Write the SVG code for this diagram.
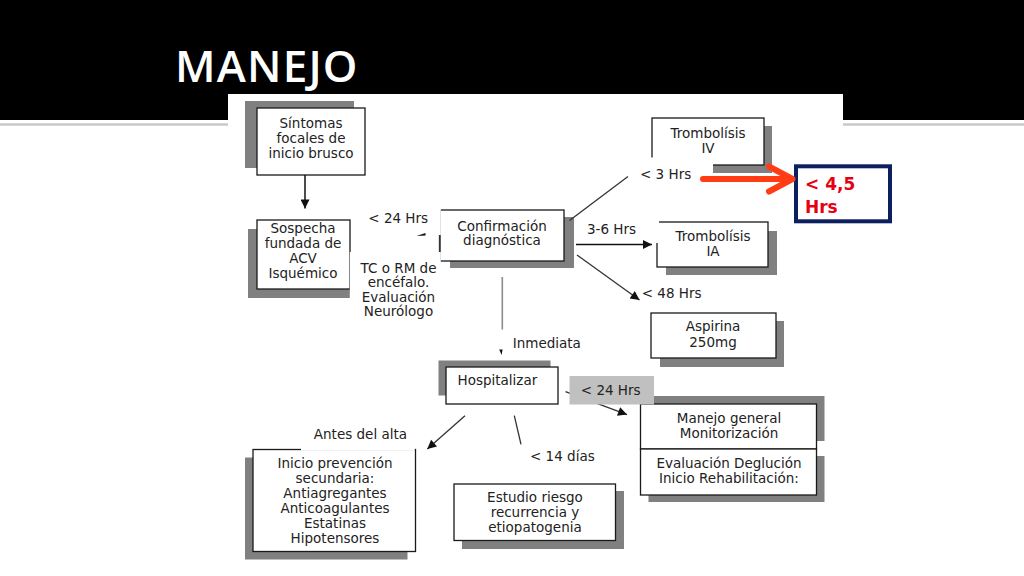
<svg xmlns="http://www.w3.org/2000/svg" width="1024" height="576" viewBox="0 0 1024 576">
  <style>
    .box { fill: #ffffff; stroke: #1a1a1a; stroke-width: 1.3; }
    .shadow { fill: #808080; }
    .t { font-family: "DejaVu Sans", Verdana, sans-serif; font-size: 13.5px; fill: #222222; }
    .c { text-anchor: middle; }
    .cover { fill: #ffffff; }
    .ln { stroke: #333333; stroke-width: 1.3; fill: none; }
    .lnk { stroke: #111111; stroke-width: 1.5; fill: none; }
    .title { font-family: "Open Sans", "DejaVu Sans", sans-serif; font-size: 44px; font-weight: 600; letter-spacing: 1.2px; fill: #ffffff; }
    .red { font-family: "DejaVu Sans", Verdana, sans-serif; font-size: 17px; font-weight: 700; fill: #e60012; }
  </style>
  <defs>
    <marker id="ah" viewBox="0 0 10 10" refX="10" refY="5" markerUnits="userSpaceOnUse" markerWidth="11" markerHeight="9" orient="auto">
      <path d="M0,0 L10,5 L0,10 z" fill="#111111"/>
    </marker>
  </defs>

  <!-- slide background -->
  <rect x="0" y="0" width="1024" height="576" fill="#ffffff"/>
  <rect x="0" y="0" width="1024" height="120" fill="#000000"/>
  <line x1="0" y1="124.5" x2="228" y2="124.5" stroke="#c8c8c8" stroke-width="2.5"/>
  <line x1="843" y1="124.5" x2="1024" y2="124.5" stroke="#c8c8c8" stroke-width="2.5"/>
  <rect x="228" y="94" width="615" height="482" fill="#ffffff"/>
  <text class="title" x="175" y="82">MANEJO</text>

  <g id="sintomas">
    <rect class="shadow" x="245" y="101" width="109" height="67"/>
    <rect class="box" x="257" y="108" width="108" height="67"/>
    <text class="t c" x="311" y="127.7">Síntomas</text>
    <text class="t c" x="311" y="142.7">focales de</text>
    <text class="t c" x="311" y="157.7">inicio brusco</text>
  </g>

  <g id="sospecha">
    <rect class="shadow" x="248" y="229" width="102" height="69"/>
    <rect class="box" x="257" y="220" width="93" height="69"/>
    <text class="t c" x="303" y="233">Sospecha</text>
    <text class="t c" x="303" y="248">fundada de</text>
    <text class="t c" x="303" y="263">ACV</text>
    <text class="t c" x="303" y="278">Isquémico</text>
  </g>

  <g id="confirmacion">
    <rect class="shadow" x="450" y="217" width="124" height="51"/>
    <rect class="box" x="440" y="210" width="124" height="51"/>
    <text class="t c" x="502" y="230.5">Confirmación</text>
    <text class="t c" x="502" y="245">diagnóstica</text>
  </g>

  <g id="trombolisis-iv">
    <rect class="shadow" x="660" y="126" width="112" height="47"/>
    <rect class="box" x="652" y="118" width="112" height="47"/>
    <text class="t c" x="708" y="138">Trombolísis</text>
    <text class="t c" x="708" y="153">IV</text>
  </g>

  <g id="hrs-45">
    <rect x="796" y="166.3" width="94" height="55" fill="#ffffff" stroke="#0c1f5e" stroke-width="4"/>
    <text class="red" x="805" y="189.5">&lt; 4,5</text>
    <text class="red" x="805" y="212.5">Hrs</text>
  </g>

  <g id="trombolisis-ia">
    <rect class="shadow" x="666" y="231" width="111" height="44"/>
    <rect class="box" x="657" y="222" width="111" height="45"/>
    <text class="t c" x="713" y="240.5">Trombolísis</text>
    <text class="t c" x="713" y="256">IA</text>
  </g>

  <g id="aspirina">
    <rect class="shadow" x="660" y="321" width="124" height="46"/>
    <rect class="box" x="651" y="313" width="125" height="45"/>
    <text class="t c" x="713" y="331">Aspirina</text>
    <text class="t c" x="713" y="346.5">250mg</text>
  </g>

  <g id="hospitalizar">
    <rect class="shadow" x="438.5" y="360.5" width="112" height="35"/>
    <rect class="box" x="446" y="367" width="112" height="37"/>
    <text class="t" x="457.5" y="385">Hospitalizar</text>
  </g>

  <g id="manejo">
    <rect class="shadow" x="648.5" y="396" width="176" height="45"/>
    <rect class="shadow" x="648.5" y="456" width="176" height="46"/>
    <rect class="box" x="640.5" y="404" width="176" height="45"/>
    <rect class="box" x="640.5" y="449" width="176" height="46"/>
    <text class="t c" x="729" y="422.5">Manejo general</text>
    <text class="t c" x="729" y="437.5">Monitorización</text>
    <text class="t c" x="729" y="468">Evaluación Deglución</text>
    <text class="t c" x="729" y="483">Inicio Rehabilitación:</text>
  </g>

  <g id="inicio-prevencion">
    <rect class="shadow" x="245" y="457.5" width="162.5" height="102"/>
    <rect class="box" x="253" y="449.5" width="162.5" height="102"/>
    <text class="t c" x="335" y="468.3">Inicio prevención</text>
    <text class="t c" x="335" y="483.3">secundaria:</text>
    <text class="t c" x="335" y="498.3">Antiagregantes</text>
    <text class="t c" x="335" y="513.3">Anticoagulantes</text>
    <text class="t c" x="335" y="528.3">Estatinas</text>
    <text class="t c" x="335" y="543.3">Hipotensores</text>
  </g>

  <g id="estudio">
    <rect class="shadow" x="462" y="491" width="162" height="58"/>
    <rect class="box" x="454" y="484" width="161.5" height="56.5"/>
    <text class="t c" x="535" y="501.7">Estudio riesgo</text>
    <text class="t c" x="535" y="516.7">recurrencia y</text>
    <text class="t c" x="535" y="531.7">etiopatogenia</text>
  </g>

  <!-- white label backgrounds hiding parts of the boxes -->
  <g id="label-backgrounds">
    <rect class="cover" x="360" y="204" width="80.8" height="31"/>
    <rect class="cover" x="349.8" y="252" width="91" height="70"/>
    <rect class="cover" x="630" y="157.5" width="83" height="30"/>
    <rect class="cover" x="583" y="214" width="76" height="29"/>
    <rect class="cover" x="301" y="424" width="113.7" height="26.6"/>
  </g>

  <g id="connectors">
    <line class="lnk" x1="305" y1="175" x2="305" y2="208.5" marker-end="url(#ah)"/>
    <line class="ln" x1="439.5" y1="235" x2="439.5" y2="252"/>
    <polygon points="416.5,236 425.5,233 425.5,235.6" fill="#111111"/>
    <line class="ln" x1="569.5" y1="220.5" x2="628" y2="176.5"/>
    <line class="lnk" x1="576" y1="244.5" x2="652" y2="244.5" marker-end="url(#ah)"/>
    <line class="ln" x1="577" y1="255" x2="639.5" y2="300" marker-end="url(#ah)"/>
    <line x1="502.3" y1="277" x2="502.3" y2="329.5" stroke="#8a8a8a" stroke-width="1.6"/>
    <polygon points="499.2,349.5 502.6,349.5 501.6,355" fill="#111111"/>
    <line x1="703" y1="179" x2="789" y2="179" stroke="#ff3c14" stroke-width="6" stroke-linecap="round"/>
    <polyline points="769,166.5 792.5,179 769,191.5" fill="none" stroke="#ff3c14" stroke-width="6" stroke-linecap="round" stroke-linejoin="round"/>
    <line class="ln" x1="565.5" y1="391.6" x2="627" y2="414.6" marker-end="url(#ah)"/>
    <line class="ln" x1="465" y1="415.7" x2="427.3" y2="449" marker-end="url(#ah)"/>
    <line class="ln" x1="514.3" y1="415.7" x2="521" y2="444.3"/>
  </g>

  <g id="connector-labels">
    <text class="t" x="368.3" y="222.5">&lt; 24 Hrs</text>
    <text class="t c" x="398.5" y="272.5">TC o RM de</text>
    <text class="t c" x="398.5" y="287">encéfalo.</text>
    <text class="t c" x="398.5" y="301.5">Evaluación</text>
    <text class="t c" x="398.5" y="316">Neurólogo</text>
    <text class="t" x="640" y="179">&lt; 3 Hrs</text>
    <text class="t" x="587" y="234">3-6 Hrs</text>
    <text class="t" x="641.7" y="298.3">&lt; 48 Hrs</text>
    <text class="t" x="512.7" y="347.5">Inmediata</text>
    <rect x="569.5" y="376" width="84.5" height="28.5" fill="#c0c0c0"/>
    <text class="t" x="580.8" y="394.5">&lt; 24 Hrs</text>
    <text class="t" x="313.8" y="439">Antes del alta</text>
    <text class="t" x="530" y="460.5">&lt; 14 días</text>
  </g>
</svg>
